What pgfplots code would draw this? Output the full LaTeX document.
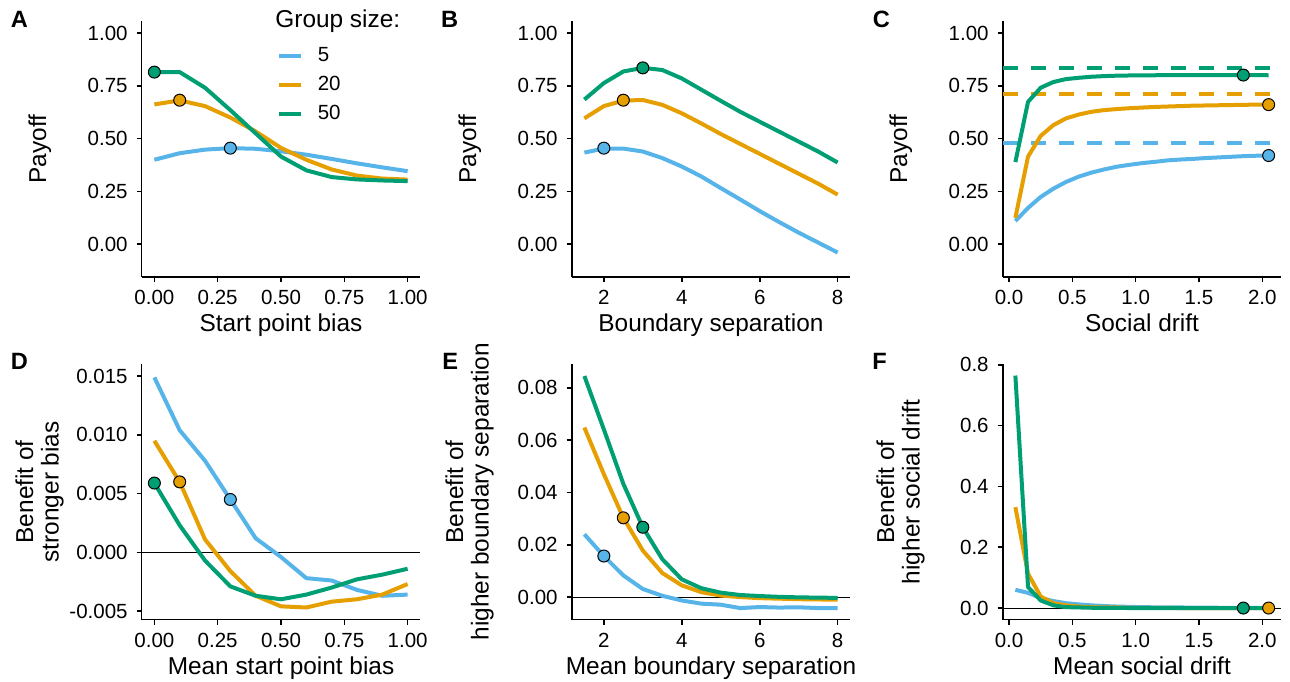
\documentclass[border=0pt]{standalone}
\usepackage{fontspec}
\setmainfont{Liberation Sans}
\usepackage{pgfplots}
\pgfplotsset{compat=1.18}

\definecolor{c5}{HTML}{56B4E9}
\definecolor{c20}{HTML}{E69F00}
\definecolor{c50}{HTML}{009E73}

\pgfplotsset{
  panel/.style={
    scale only axis, width=139.3pt, height=127.8pt,
    anchor=south west,
    axis x line*=bottom, axis y line*=left,
    axis line style={line width=0.8pt, -},
    tick align=outside, major tick length=2.5pt,
    every tick/.style={black, line width=0.8pt},
    tick label style={font=\fontsize{10.25}{12}\selectfont, inner sep=0pt},
    xticklabel style={anchor=north},
    yticklabel style={anchor=east},
    xticklabel shift=4pt, yticklabel shift=4.35pt,
    label style={font=\fontsize{12.2}{12.8}\selectfont, inner sep=0pt},
    xlabel style={at={(axis description cs:0.5,-0.213)}, anchor=base},
    ylabel style={align=center, anchor=north},
    scaled ticks=false,
    /pgf/number format/assume math mode=true,
  },
  toprow/.style={panel, ylabel style={at={(axis description cs:-0.408,0.5)}},
    ymin=-0.155, ymax=1.055, ytick={0,0.25,0.5,0.75,1},
    yticklabels={0.00,0.25,0.50,0.75,1.00}, ylabel={Payoff}},
  botrow/.style={panel, ylabel style={at={(axis description cs:-0.455,0.5)}}},
  xbias/.style={xmin=-0.05, xmax=1.05, xtick={0,0.25,0.5,0.75,1},
    xticklabels={0.00,0.25,0.50,0.75,1.00}},
  xsep/.style={xmin=1.175, xmax=8.325, xtick={2,4,6,8}, xticklabels={2,4,6,8}},
  xdrift/.style={xmin=-0.05, xmax=2.15, xtick={0,0.5,1,1.5,2},
    xticklabels={0.0,0.5,1.0,1.5,2.0}},
  s5/.style={color=c5, line width=2pt, line join=round, no markers},
  s20/.style={color=c20, line width=2pt, line join=round, no markers},
  s50/.style={color=c50, line width=2pt, line join=round, no markers},
  p5/.style={only marks, mark=*, mark size=3pt, mark options={fill=c5, draw=black, line width=0.5pt}, forget plot},
  p20/.style={only marks, mark=*, mark size=3pt, mark options={fill=c20, draw=black, line width=0.5pt}, forget plot},
  p50/.style={only marks, mark=*, mark size=3pt, mark options={fill=c50, draw=black, line width=0.5pt}, forget plot},
  zero/.style={black, line width=0.5pt, forget plot, no markers},
  hdash/.style={line width=2pt, dash pattern=on 7.5pt off 6.5pt, forget plot, no markers},
}

\begin{document}
\begin{tikzpicture}
\useasboundingbox (0,0) rectangle (645pt,340.5pt);

% ---------- A ----------
\begin{axis}[toprow, xbias, at={(70.85pt,202pt)}, xlabel={Start point bias},
  legend style={at={(axis description cs:0.4856,0.8995)}, anchor=north west,
    draw=none, fill=none, inner sep=0pt, outer sep=0pt, row sep=6pt,
    nodes={inner sep=0pt}, font=\fontsize{10.25}{12}\selectfont},
  legend cell align=left,
  legend image code/.code={\draw[#1, line width=2pt] (0pt,0pt) -- (10.9pt,0pt); \path (18.4pt,0pt);}]
\addplot[s5] coordinates {(0,0.400)(0.1,0.431)(0.2,0.448)(0.3,0.455)(0.4,0.452)(0.5,0.440)(0.6,0.424)(0.7,0.404)(0.8,0.383)(0.9,0.364)(1,0.346)};
\addlegendentry{5}
\addplot[s20] coordinates {(0,0.662)(0.1,0.681)(0.2,0.654)(0.3,0.600)(0.4,0.534)(0.5,0.456)(0.6,0.400)(0.7,0.354)(0.8,0.325)(0.9,0.311)(1,0.306)};
\addlegendentry{20}
\addplot[s50] coordinates {(0,0.815)(0.1,0.815)(0.2,0.741)(0.3,0.635)(0.4,0.525)(0.5,0.415)(0.6,0.350)(0.7,0.318)(0.8,0.307)(0.9,0.302)(1,0.299)};
\addlegendentry{50}
\addplot[p5] coordinates {(0.3,0.455)};
\addplot[p20] coordinates {(0.1,0.682)};
\addplot[p50] coordinates {(0,0.815)};
\end{axis}

% ---------- B ----------
\begin{axis}[toprow, xsep, at={(285.85pt,202pt)}, xlabel={Boundary separation}]
\addplot[s5] coordinates {(1.5,0.434)(2,0.453)(2.5,0.453)(3,0.439)(3.5,0.408)(4,0.368)(4.5,0.321)(5,0.266)(5.5,0.212)(6,0.157)(6.5,0.105)(7,0.055)(7.5,0.008)(8,-0.039)};
\addplot[s20] coordinates {(1.5,0.596)(2,0.654)(2.5,0.680)(3,0.683)(3.5,0.660)(4,0.620)(4.5,0.572)(5,0.522)(5.5,0.475)(6,0.428)(6.5,0.381)(7,0.334)(7.5,0.287)(8,0.235)};
\addplot[s50] coordinates {(1.5,0.685)(2,0.763)(2.5,0.818)(3,0.835)(3.5,0.825)(4,0.785)(4.5,0.732)(5,0.679)(5.5,0.627)(6,0.580)(6.5,0.533)(7,0.486)(7.5,0.439)(8,0.387)};
\addplot[p5] coordinates {(2,0.455)};
\addplot[p20] coordinates {(2.5,0.682)};
\addplot[p50] coordinates {(3,0.835)};
\end{axis}

% ---------- C ----------
\begin{axis}[toprow, xdrift, at={(501.35pt,202pt)}, xlabel={Social drift}]
\addplot[hdash, c5] coordinates {(-0.05,0.481)(2.15,0.481)};
\addplot[hdash, c20] coordinates {(-0.05,0.713)(2.15,0.713)};
\addplot[hdash, c50] coordinates {(-0.05,0.834)(2.15,0.834)};
\addplot[s5] coordinates {(0.05,0.110)(0.15,0.172)(0.25,0.224)(0.35,0.263)(0.45,0.295)(0.55,0.320)(0.65,0.339)(0.75,0.354)(0.85,0.367)(0.95,0.376)(1.05,0.384)(1.15,0.390)(1.25,0.397)(1.35,0.401)(1.45,0.404)(1.55,0.408)(1.65,0.411)(1.75,0.414)(1.85,0.417)(1.95,0.419)(2.05,0.420)};
\addplot[s20] coordinates {(0.05,0.125)(0.15,0.415)(0.25,0.513)(0.35,0.564)(0.45,0.596)(0.55,0.614)(0.65,0.627)(0.75,0.635)(0.85,0.640)(0.95,0.644)(1.05,0.647)(1.15,0.650)(1.25,0.652)(1.35,0.654)(1.45,0.656)(1.55,0.657)(1.65,0.658)(1.75,0.659)(1.85,0.660)(1.95,0.661)(2.05,0.661)};
\addplot[s50] coordinates {(0.05,0.389)(0.15,0.674)(0.25,0.741)(0.35,0.768)(0.45,0.782)(0.55,0.788)(0.65,0.793)(0.75,0.796)(0.85,0.798)(0.95,0.799)(1.05,0.800)(1.15,0.800)(1.25,0.801)(1.35,0.801)(1.45,0.801)(1.55,0.801)(1.65,0.801)(1.75,0.801)(1.85,0.801)(1.95,0.801)(2.05,0.800)};
\addplot[p5] coordinates {(2.05,0.420)};
\addplot[p20] coordinates {(2.05,0.661)};
\addplot[p50] coordinates {(1.85,0.801)};
\end{axis}

% ---------- D ----------
\begin{axis}[botrow, xbias, at={(70.85pt,30.7pt)},
  ymin=-0.00573, ymax=0.01604, ytick={-0.005,0,0.005,0.01,0.015},
  yticklabels={-0.005,0.000,0.005,0.010,0.015},
  xlabel={Mean start point bias}, ylabel={Benefit of\\stronger bias}]
\addplot[zero] coordinates {(-0.05,0)(1.05,0)};
\addplot[s5] coordinates {(0,0.0149)(0.1,0.0104)(0.2,0.0078)(0.3,0.0045)(0.4,0.0012)(0.5,-0.0004)(0.6,-0.0022)(0.7,-0.0024)(0.8,-0.0032)(0.9,-0.0037)(1,-0.0036)};
\addplot[s20] coordinates {(0,0.0095)(0.1,0.0060)(0.2,0.0011)(0.3,-0.0016)(0.4,-0.0037)(0.5,-0.0046)(0.6,-0.0047)(0.7,-0.0042)(0.8,-0.0040)(0.9,-0.0036)(1,-0.0027)};
\addplot[s50] coordinates {(0,0.0059)(0.1,0.0023)(0.2,-0.0007)(0.3,-0.0029)(0.4,-0.0037)(0.5,-0.0040)(0.6,-0.0036)(0.7,-0.0030)(0.8,-0.0023)(0.9,-0.0019)(1,-0.0014)};
\addplot[p5] coordinates {(0.3,0.0045)};
\addplot[p20] coordinates {(0.1,0.0060)};
\addplot[p50] coordinates {(0,0.0059)};
\end{axis}

% ---------- E ----------
\begin{axis}[botrow, xsep, at={(285.85pt,30.7pt)},
  ymin=-0.0086, ymax=0.0891, ytick={0,0.02,0.04,0.06,0.08},
  yticklabels={0.00,0.02,0.04,0.06,0.08},
  xlabel={Mean boundary separation}, ylabel={Benefit of\\higher boundary separation}]
\addplot[zero] coordinates {(1.175,0)(8.325,0)};
\addplot[s5] coordinates {(1.5,0.0240)(2,0.0157)(2.5,0.0083)(3,0.0031)(3.5,0.0005)(4,-0.0013)(4.5,-0.0025)(5,-0.0029)(5.5,-0.0042)(6,-0.0038)(6.5,-0.0040)(7,-0.0039)(7.5,-0.0042)(8,-0.0042)};
\addplot[s20] coordinates {(1.5,0.0648)(2,0.0470)(2.5,0.0303)(3,0.0178)(3.5,0.0092)(4,0.0045)(4.5,0.0019)(5,0.0006)(5.5,0.0000)(6,-0.0004)(6.5,-0.0006)(7,-0.0008)(7.5,-0.0009)(8,-0.0010)};
\addplot[s50] coordinates {(1.5,0.0845)(2,0.0641)(2.5,0.0433)(3,0.0267)(3.5,0.0145)(4,0.0068)(4.5,0.0034)(5,0.0017)(5.5,0.0008)(6,0.0004)(6.5,0.0001)(7,-0.0001)(7.5,-0.0002)(8,-0.0003)};
\addplot[p5] coordinates {(2,0.0157)};
\addplot[p20] coordinates {(2.5,0.0303)};
\addplot[p50] coordinates {(3,0.0267)};
\end{axis}

% ---------- F ----------
\begin{axis}[botrow, xdrift, at={(501.35pt,30.7pt)},
  ymin=-0.038, ymax=0.803, ytick={0,0.2,0.4,0.6,0.8},
  yticklabels={0.0,0.2,0.4,0.6,0.8},
  xlabel={Mean social drift}, ylabel={Benefit of\\higher social drift}]
\addplot[zero] coordinates {(-0.05,0)(2.15,0)};
\addplot[s5] coordinates {(0.05,0.060)(0.15,0.050)(0.25,0.033)(0.35,0.023)(0.45,0.016)(0.55,0.012)(0.65,0.009)(0.75,0.0066)(0.85,0.005)(0.95,0.004)(1.05,0.003)(1.15,0.0025)(1.25,0.002)(1.35,0.002)(1.45,0.0015)(1.55,0.0015)(1.65,0.001)(1.75,0.001)(1.85,0.001)(1.95,0.001)(2.05,0.001)};
\addplot[s20] coordinates {(0.05,0.332)(0.15,0.113)(0.25,0.038)(0.35,0.016)(0.45,0.009)(0.55,0.005)(0.65,0.003)(0.75,0.002)(0.85,0.002)(0.95,0.001)(1.05,0.001)(1.15,0.001)(1.25,0.001)(1.35,0)(1.45,0)(1.55,0)(1.65,0)(1.75,0)(1.85,0)(1.95,0)(2.05,0)};
\addplot[s50] coordinates {(0.05,0.765)(0.15,0.069)(0.25,0.025)(0.35,0.009)(0.45,0.003)(0.55,0.002)(0.65,0.001)(0.75,0.001)(0.85,0.001)(0.95,0)(1.05,0)(1.15,0)(1.25,0)(1.35,0)(1.45,0)(1.55,0)(1.65,0)(1.75,0)(1.85,0)(1.95,0)(2.05,0)};
\addplot[p20] coordinates {(2.05,0)};
\addplot[p50] coordinates {(1.85,0)};
\end{axis}

% legend title and panel tags
\node[anchor=base west, inner sep=0pt, font=\fontsize{12.2}{12.8}\selectfont] at (137.5pt,326.5pt) {Group size:};
\node[anchor=base west, inner sep=0pt, font=\fontsize{11.8}{13}\selectfont\bfseries] at (5.2pt,326.8pt) {A};
\node[anchor=base west, inner sep=0pt, font=\fontsize{11.8}{13}\selectfont\bfseries] at (220.4pt,326.8pt) {B};
\node[anchor=base west, inner sep=0pt, font=\fontsize{11.8}{13}\selectfont\bfseries] at (436.2pt,326.8pt) {C};
\node[anchor=base west, inner sep=0pt, font=\fontsize{11.8}{13}\selectfont\bfseries] at (5.2pt,155.9pt) {D};
\node[anchor=base west, inner sep=0pt, font=\fontsize{11.8}{13}\selectfont\bfseries] at (221pt,155.9pt) {E};
\node[anchor=base west, inner sep=0pt, font=\fontsize{11.8}{13}\selectfont\bfseries] at (436pt,155.9pt) {F};
\end{tikzpicture}
\end{document}
